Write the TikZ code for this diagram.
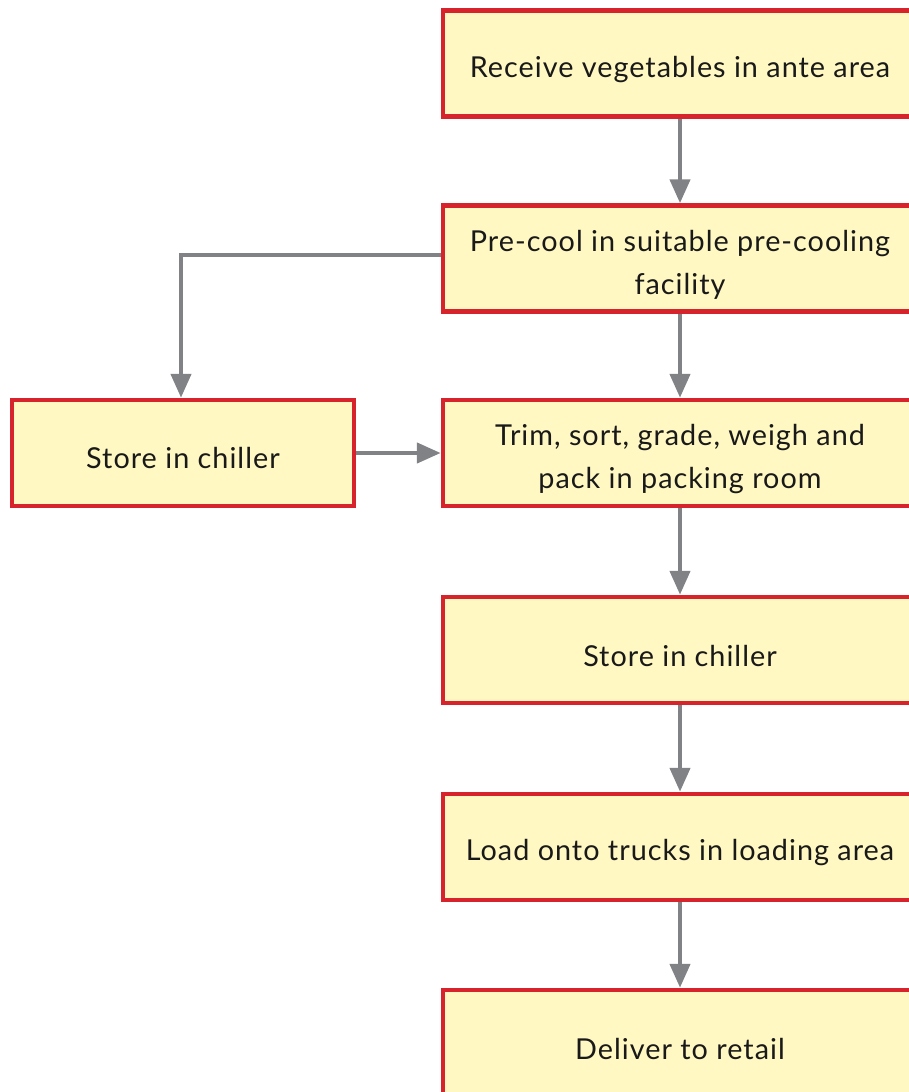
\documentclass[tikz,border=0pt]{standalone}
\usepackage{fontspec}
\setmainfont{Lato}[LetterSpace=3.5]
\usetikzlibrary{arrows.meta}
\definecolor{boxred}{HTML}{D6232C}
\definecolor{boxfill}{HTML}{FFF8C2}
\definecolor{arrgray}{HTML}{818286}
\begin{document}
\begin{tikzpicture}[x=1pt,y=-1pt,
  stepbox/.style={draw=boxred,line width=4.5pt,fill=boxfill,minimum width=474pt,minimum height=106pt,inner sep=0pt},
  leftbox/.style={stepbox,minimum width=342pt},
  txt/.style={align=center,font=\fontsize{28.8}{43}\selectfont,inner sep=0pt,text=black!90},
  arr/.style={draw=arrgray,line width=4.5pt,-{Triangle[length=24pt,width=20pt]}}]
\useasboundingbox (0,0) rectangle (909,1092);
\begin{scope}
\clip (0,0) rectangle (909,1092);
\node[stepbox] (a) at (680,63.5) {};
\node[stepbox] (b) at (680,258.5) {};
\node[stepbox] (c) at (680,453) {};
\node[stepbox] (d) at (680,650) {};
\node[stepbox] (e) at (680,847) {};
\node[stepbox,minimum height=120pt] (f) at (680,1050) {};
\node[leftbox] (l) at (183,453) {};
\node[txt] (ta) at ([yshift=-6pt]a.center) {Receive vegetables in ante area};
\node[txt] (tb) at ([yshift=-6pt]b.center) {Pre-cool in suitable pre-cooling\\facility};
\node[txt] (tc) at ([yshift=-6pt]c.center) {Trim, sort, grade, weigh and\\pack in packing room};
\node[txt] (td) at ([yshift=-6pt]d.center) {Store in chiller};
\node[txt] (te) at ([yshift=-6pt]e.center) {Load onto trucks in loading area};
\node[txt] (tf) at ([yshift=1pt]f.center) {Deliver to retail};
\node[txt] (tl) at ([yshift=-5pt]l.center) {Store in chiller};
\coordinate (corner) at (181,255);
\draw[arr] (a.south) -- (b.north);
\draw[arr] (b.south) -- (c.north);
\draw[arr] (c.south) -- (d.north);
\draw[arr] (d.south) -- (e.north);
\draw[arr] (e.south) -- (f.north);
\draw[arr] (b.west |- corner) -- (corner) -- (corner |- l.north);
\draw[arr] (l.east) -- (c.west);
\end{scope}
\end{tikzpicture}
\end{document}
